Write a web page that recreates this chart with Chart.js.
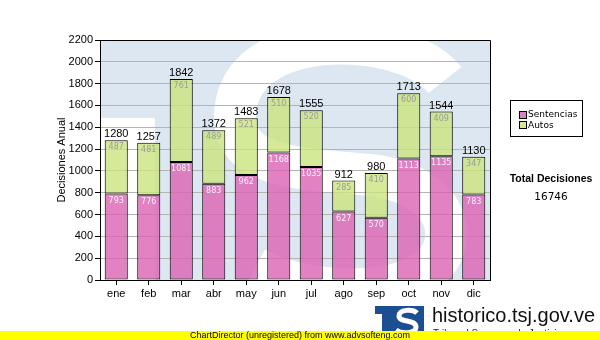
<!DOCTYPE html>
<html>
<head>
<meta charset="utf-8">
<script src="https://cdn.jsdelivr.net/npm/chart.js@4.4.1/dist/chart.umd.min.js"></script>
<style>
  body { margin: 0; background: #fff; }
  #wrap { position: relative; width: 600px; height: 340px; overflow: hidden; font-family: "Liberation Sans", Arial, sans-serif; }
  #myChart { position: absolute; left: 0; top: 0; }
  .legend { position: absolute; left: 510px; top: 100px; width: 73px; height: 37px; box-sizing: border-box; border: 1px solid #000; background: #fff; }
  .legend .sw { position: absolute; left: 8px; width: 8px; height: 8px; box-sizing: border-box; border: 1px solid #000; }
  .legend .tx { position: absolute; left: 17px; font: 9px "DejaVu Sans", Verdana, sans-serif; line-height: 10px; color: #000; white-space: nowrap; }
  .totalT { position: absolute; left: 500px; width: 102px; top: 172px; text-align: center; font: bold 10.5px "Liberation Sans", Arial, sans-serif; color: #000; }
  .totalV { position: absolute; left: 500px; width: 102px; top: 190px; text-align: center; font: 10.5px "DejaVu Sans", Verdana, sans-serif; color: #000; }
  .site { position: absolute; left: 432px; top: 304px; font: 20px "Liberation Sans", Arial, sans-serif; color: #111; white-space: nowrap; }
  .sub { position: absolute; left: 433px; top: 328px; font: 10px "Liberation Sans", Arial, sans-serif; color: #222; white-space: nowrap; }
  .footer { position: absolute; left: 0; top: 331px; width: 600px; height: 9px; background: #ffff00; text-align: center; font: 9px "Liberation Sans", Arial, sans-serif; line-height: 9px; color: #000; }
</style>
</head>
<body>
<div id="wrap">
  <canvas id="myChart" width="600" height="340"></canvas>
  <div class="legend">
    <div class="sw" style="top:10px;background:#df80c1"></div><div class="tx" style="top:8px">Sentencias</div>
    <div class="sw" style="top:20px;background:#d4ea98"></div><div class="tx" style="top:19px">Autos</div>
  </div>
  <div class="totalT">Total Decisiones</div>
  <div class="totalV" id="totalV"></div>
  <svg style="position:absolute;left:374px;top:306px" width="51" height="30">
    <rect x="1" y="0" width="15" height="8" fill="#1c4f91"/>
    <rect x="8" y="0" width="9" height="30" fill="#1c4f91"/>
    <rect x="16" y="0" width="34" height="30" fill="#1c4f91"/>
    <path d="M43 7 C39 3, 25 3, 25 10 C25 17, 42 13, 42 21 C42 28, 27 28, 22 24" fill="none" stroke="#fff" stroke-width="5"/>
  </svg>
  <div class="site">historico.tsj.gov.ve</div>
  <div class="sub">Tribunal Supremo de Justicia</div>
  <div class="footer">ChartDirector (unregistered) from www.advsofteng.com</div>
</div>
<script>
'use strict';
let months = ['ene', 'feb', 'mar', 'abr', 'may', 'jun', 'jul', 'ago', 'sep', 'oct', 'nov', 'dic'];
let sentencias = [793, 776, 1081, 883, 962, 1168, 1035, 627, 570, 1113, 1135, 783];
let autos = [487, 481, 761, 489, 521, 510, 520, 285, 410, 600, 409, 347];
let yMax = 2200;
let yStep = 200;

let totals = [];
let totalDecisiones = 0;
for (let i = 0; i < months.length; i++) {
    totals.push(sentencias[i] + autos[i]);
    totalDecisiones += sentencias[i] + autos[i];
}
document.getElementById('totalV').textContent = totalDecisiones;

// light blue background with the big white "S" of the logo behind the bars
let watermark = {
    id: 'watermark',
    beforeDraw(chart) {
        let ctx = chart.ctx;
        let a = chart.chartArea;
        ctx.save();
        ctx.beginPath();
        ctx.rect(a.left, a.top, a.right - a.left, a.bottom - a.top);
        ctx.clip();
        ctx.fillStyle = '#dde7f1';
        ctx.fillRect(a.left, a.top, a.right - a.left, a.bottom - a.top);
        ctx.fillStyle = '#fff';
        ctx.fillRect(a.left, a.top + 78, 55, a.bottom - a.top - 78);
        ctx.strokeStyle = '#fff';
        ctx.lineWidth = 42;
        ctx.beginPath();
        ctx.moveTo(445, 80);
        ctx.bezierCurveTo(405, 30, 250, 25, 236, 105);
        ctx.bezierCurveTo(225, 170, 300, 168, 370, 175);
        ctx.bezierCurveTo(455, 185, 465, 250, 420, 275);
        ctx.bezierCurveTo(380, 298, 300, 292, 255, 268);
        ctx.stroke();
        ctx.restore();
    }
};

let barLabels = {
    id: 'barLabels',
    afterDatasetsDraw(chart) {
        let ctx = chart.ctx;
        let a = chart.chartArea;
        ctx.save();
        // top and right frame of plot area
        ctx.strokeStyle = '#000';
        ctx.lineWidth = 1;
        ctx.beginPath();
        ctx.moveTo(Math.round(a.left) + 0.5, Math.round(a.top) + 0.5);
        ctx.lineTo(Math.round(a.right) + 0.5, Math.round(a.top) + 0.5);
        ctx.lineTo(Math.round(a.right) + 0.5, Math.round(a.bottom) + 0.5);
        ctx.stroke();

        ctx.textAlign = 'center';
        ctx.textBaseline = 'middle';
        ctx.font = '8px "DejaVu Sans", Verdana, sans-serif';
        let m0 = chart.getDatasetMeta(0).data;
        let m1 = chart.getDatasetMeta(1).data;
        for (let i = 0; i < months.length; i++) {
            ctx.fillStyle = '#fbf2fa';
            ctx.fillText(sentencias[i], m0[i].x, m0[i].y + 7);
            ctx.fillStyle = '#9c9c9c';
            ctx.fillText(autos[i], m1[i].x, m1[i].y + 7);
        }
        ctx.font = '11px "Liberation Sans", Arial, sans-serif';
        ctx.fillStyle = '#000';
        ctx.textBaseline = 'alphabetic';
        for (let i = 0; i < months.length; i++) {
            ctx.fillText(totals[i], m1[i].x, m1[i].y - 3);
        }
        ctx.restore();
    }
};

let ctx = document.getElementById('myChart').getContext('2d');
let myChart = new Chart(ctx, {
    type: 'bar',
    data: {
        labels: months,
        datasets: [{
            label: 'Sentencias',
            data: sentencias,
            backgroundColor: 'rgba(219, 99, 179, 0.8)',
            borderColor: '#000',
            borderWidth: 1,
            borderSkipped: false
        }, {
            label: 'Autos',
            data: autos,
            backgroundColor: 'rgba(201, 229, 126, 0.8)',
            borderColor: '#000',
            borderWidth: 1,
            borderSkipped: false
        }]
    },
    options: {
        responsive: false,
        animation: false,
        layout: { padding: { top: 40, right: 110, left: 0, bottom: 0 } },
        barPercentage: 0.71,
        categoryPercentage: 1,
        plugins: {
            legend: { display: false },
            tooltip: { enabled: false }
        },
        scales: {
            x: {
                stacked: true,
                grid: { drawOnChartArea: false, offset: false, tickLength: 5, tickColor: '#000' },
                border: { color: '#000' },
                ticks: { color: '#000', padding: 2, font: { family: '"Liberation Sans", Arial, sans-serif', size: 11 } },
                afterFit: s => { s.height = 60; }
            },
            y: {
                stacked: true,
                min: 0,
                max: yMax,
                grid: { color: '#b4b4b4', tickLength: 5, tickColor: '#000' },
                border: { color: '#000' },
                ticks: {
                    stepSize: yStep,
                    color: '#000',
                    padding: 2,
                    font: { family: '"Liberation Sans", Arial, sans-serif', size: 11 },
                    callback: v => String(v)
                },
                title: {
                    display: true,
                    text: 'Decisiones Anual',
                    color: '#000',
                    padding: { top: 55, bottom: 0 },
                    font: { family: '"Liberation Sans", Arial, sans-serif', size: 11 }
                },
                afterFit: s => { s.width = 100; }
            }
        }
    },
    plugins: [watermark, barLabels]
});
</script>
</body>
</html>
